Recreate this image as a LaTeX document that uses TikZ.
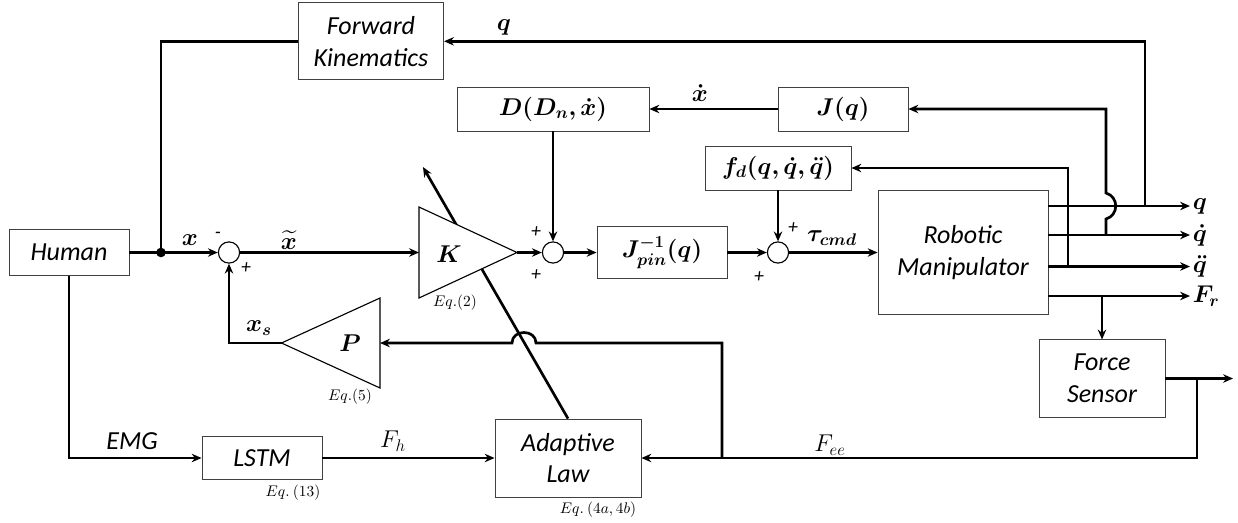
\documentclass[tikz,border=0pt]{standalone}
\usepackage{amsmath,amssymb,bm}
\usepackage[no-math]{fontspec}
\setmainfont{Carlito}
\usetikzlibrary{arrows.meta}

\begin{document}
\begin{tikzpicture}[x=0.025cm, y=-0.025cm,
  every node/.style={font=\fontsize{18.5}{22.5}\selectfont\itshape, inner sep=1pt},
  block/.style={draw=black!75, line width=0.6pt, fill=white, align=center, inner sep=0pt},
  sumnode/.style={draw, circle, line width=0.8pt, minimum size=0.53cm, inner sep=0pt, fill=white},
  sig/.style={line width=1.9pt, -{Stealth[length=7pt,width=6pt]}},
  wire/.style={line width=1.9pt},
  eqn/.style={font=\fontsize{10.5}{12}\selectfont},
  signlbl/.style={font=\fontsize{14}{16}\selectfont\itshape}]
  \useasboundingbox (0,0) rectangle (1238,522);

  % Blocks
  \node[block, minimum width=3.63cm, minimum height=1.93cm] (fk) at (371,41.3) {Forward\\Kinematics};
  \node[block, minimum width=3cm, minimum height=1.13cm] (human) at (69,252.5) {Human};
  \node[block, minimum width=4.8cm, minimum height=1.1cm] (dbox) at (553,109) {$\bm{D(D_n,\dot{x})}$};
  \node[block, minimum width=3.25cm, minimum height=1.1cm] (jq) at (843,109) {$\bm{J(q)}$};
  \node[block, minimum width=3.65cm, minimum height=1.1cm] (fd) at (778,168) {$\bm{f_d(q,\dot{q},\ddot{q})}$};
  \node[block, minimum width=3.25cm, minimum height=1.28cm] (jinv) at (662,252.5) {$\bm{J_{pin}^{-1}(q)}$};
  \node[block, minimum width=4.25cm, minimum height=3.1cm] (rm) at (963,252.5) {Robotic\\Manipulator};
  \node[block, minimum width=3.15cm, minimum height=1.93cm] (fs) at (1102,378.5) {Force\\Sensor};
  \node[block, minimum width=3cm, minimum height=1.08cm] (lstm) at (262,458) {LSTM};
  \node[block, minimum width=3.65cm, minimum height=1.95cm] (adapt) at (568,458) {Adaptive\\Law};

  % Summing junctions
  \node[sumnode] (s1) at (229,252.5) {};
  \node[sumnode] (s2) at (553,252.5) {};
  \node[sumnode] (s3) at (778,252.5) {};

  % Adaptation arrow through K (drawn under the gain)
  \coordinate (Ktip) at (423,167);
  \draw[sig] (adapt.north) -- (Ktip);

  % Gains
  \coordinate (Kin) at (419,252.5);
  \coordinate (Kout) at (517,252.5);
  \draw[line width=0.8pt, fill=white] (419,207) -- (Kout) -- (419,298) -- cycle;
  \node (Klbl) at (449,254) {$\bm{K}$};
  \coordinate (Pin) at (380,343);
  \coordinate (Pout) at (281.5,343);
  \draw[line width=0.8pt, fill=white] (380,298) -- (Pout) -- (380,388) -- cycle;
  \node (Plbl) at (350,343) {$\bm{P}$};

  % Forward path
  \coordinate (jx) at (161,252.5);
  \draw[sig] (human.east) -- (s1.west);
  \fill (jx) circle[radius=0.12cm];
  \draw[wire] (fk.west) -| (jx);
  \draw[sig] (s1.east) -- (Kin);
  \draw[sig] (Kout) -- (s2.west);
  \draw[sig] (dbox.south) -- (s2.north);
  \draw[sig] (s2.east) -- (jinv.west);
  \draw[sig] (jinv.east) -- (s3.west);
  \draw[sig] (fd.south) -- (s3.north);
  \draw[sig] (s3.east) -- (rm.west);
  \draw[sig] (jq.west) -- (dbox.east);

  % Outputs
  \coordinate (qout) at (1190,206);
  \coordinate (qdout) at (1190,235);
  \coordinate (qddout) at (1190,266.5);
  \coordinate (frout) at (1190,296);
  \draw[sig] (rm.east |- qout) -- (qout) node[right] (lq) {$\bm{q}$};
  \draw[sig] (rm.east |- qdout) -- (qdout) node[right] (lqd) {$\bm{\dot{q}}$};
  \draw[sig] (rm.east |- qddout) -- (qddout) node[right] (lqdd) {$\bm{\ddot{q}}$};
  \draw[sig] (rm.east |- frout) -- (frout) node[right] (lfr) {$\bm{F_r}$};

  % Feedback of q, dq, ddq
  \coordinate (qtap) at (1145,206);
  \draw[sig] (qtap) |- (fk.east);
  \coordinate (jtap) at (1106,235);
  \draw[sig] (jtap) -- (1106,219) .. controls (1119,215) and (1119,197) .. (1106,193) |- (jq.east);
  \coordinate (fdtap) at (1068,266.5);
  \draw[sig] (fdtap) |- (fd.east);

  % Force sensor
  \draw[sig] (fs.north |- frout) -- (fs.north);
  \coordinate (fsout) at (1233,378.5);
  \draw[sig] (fs.east) -- (fsout);
  \coordinate (feetap) at (1197,378.5);
  \draw[sig] (feetap) |- (adapt.east);
  \coordinate (ptap) at (722,458);
  \draw[sig] (ptap) -- (722,343) -- (536,343) .. controls (536,329) and (512,329) .. (512,343) -- (Pin);
  \draw[sig] (Pout) -| (s1.south);

  % Human side
  \draw[sig] (human.south) |- (lstm.west);
  \draw[sig] (lstm.east) -- (adapt.west);

  % Labels
  \node (lx) at (190,240) {$\bm{x}$};
  \node (lxt) at (289,240) {$\bm{\widetilde{x}}$};
  \node (lxd) at (700,93) {$\bm{\dot{x}}$};
  \node (lqt) at (504,27) {$\bm{q}$};
  \node (ltau) at (832,238) {$\bm{\tau_{cmd}}$};
  \node (lxs) at (259,328) {$\bm{x_s}$};
  \node (lemg) at (132,441) {EMG};
  \node (lfh) at (393,441) {$F_h$};
  \node (lfee) at (830,445) {$F_{ee}$};
  \node[signlbl] (m1) at (218,235) {-};
  \node[signlbl] (p1) at (246,268) {+};
  \node[signlbl] (p2) at (536,232) {+};
  \node[signlbl] (p3) at (536,275) {+};
  \node[signlbl] (p4) at (793,228) {+};
  \node[signlbl] (p5) at (759,277) {+};
  \node[eqn] (e2) at (455,303) {$Eq.(2)$};
  \node[eqn] (e5) at (350,397) {$Eq.(5)$};
  \node[eqn] (e13) at (293,493) {$Eq.\ (13)$};
  \node[eqn] (e4) at (598,510) {$Eq.\ (4a,4b)$};
\end{tikzpicture}
\end{document}
